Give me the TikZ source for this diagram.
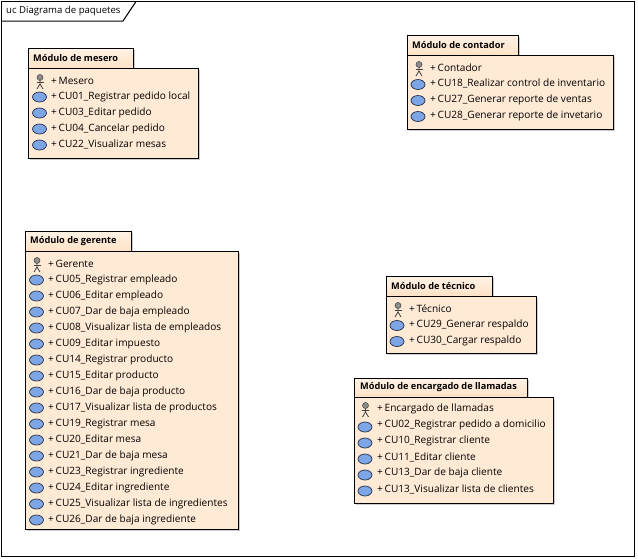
\documentclass[tikz,border=0pt]{standalone}
\usepackage{fontspec}
\setmainfont{Open Sans}
\usetikzlibrary{shadows,shapes.geometric}
\definecolor{paqfondo}{HTML}{FFEAD6}
\definecolor{paqtab}{HTML}{FFE2C6}
\definecolor{casofondo}{HTML}{7EA6E6}
\definecolor{casoborde}{HTML}{26304A}
\tikzset{
	paquete/.style={draw=black,fill=paqfondo,line width=1pt,drop shadow={shadow xshift=1.5pt,shadow yshift=-1.5pt,opacity=0.2,fill=black}},
	pestana/.style={paquete,top color=paqfondo!60,bottom color=paqtab},
	titulo/.style={anchor=west,inner sep=0pt,font=\fontsize{9.2}{11}\selectfont\bfseries},
	fila/.style={anchor=west,inner sep=0pt,font=\fontsize{10.1}{11}\selectfont},
	caso/.style={draw=casoborde,fill=casofondo,line width=0.7pt,ellipse,inner sep=0pt,minimum width=14pt,minimum height=10pt},
}
% figura de actor
\newcommand{\actorfig}[2]{
	\filldraw[draw=black!70,fill=black!45,line width=0.6pt] (#1,#2-3.5) circle (3pt);
	\draw[black!75,line width=0.8pt] (#1,#2-0.5) -- (#1,#2+3) -- (#1-3,#2+8);
	\draw[black!75,line width=0.8pt] (#1,#2+3) -- (#1+3,#2+8);
	\draw[black!75,line width=0.8pt] (#1-3.5,#2+1) -- (#1+3.5,#2+1);
}
\begin{document}
\begin{tikzpicture}[x=1pt,y=-1pt]
	\useasboundingbox (0,0) rectangle (638,558);
	% marco
	\draw[black,line width=1pt] (1.5,1.5) rectangle (634,556.5);
	\draw[black,line width=1pt] (1.5,21) -- (123,21) -- (136,1.5);
	\node[fila,font=\fontsize{9.6}{11}\selectfont] (marco) at (6,11) {uc Diagrama de paquetes};

	% mesero
	\draw[pestana] (28,48) rectangle (133,68);
	\draw[paquete] (28,68) rectangle (198,158);
	\node[titulo] (mesero) at (33,58) {Módulo de mesero};
	\actorfig{40}{81}
	\node[fila] (m0) at (51,80.5) {+\,Mesero};
	\node[caso] (cm1) at (39.5,97) {};
	\node[fila] (m1) at (51,96.5) {+\,CU01\_Registrar pedido local};
	\node[caso] (cm2) at (39.5,113) {};
	\node[fila] (m2) at (51,112.5) {+\,CU03\_Editar pedido};
	\node[caso] (cm3) at (39.5,129) {};
	\node[fila] (m3) at (51,128.5) {+\,CU04\_Cancelar pedido};
	\node[caso] (cm4) at (39.5,145) {};
	\node[fila] (m4) at (51,144.5) {+\,CU22\_Visualizar mesas};

	% contador
	\draw[pestana] (407,35) rectangle (518,55);
	\draw[paquete] (407,55) rectangle (613,129.5);
	\node[titulo] (contador) at (412,45) {Módulo de contador};
	\actorfig{419}{68}
	\node[fila] (k0) at (430,67.5) {+\,Contador};
	\node[caso] (ck1) at (418,84.5) {};
	\node[fila] (k1) at (430,83.5) {+\,CU18\_Realizar control de inventario};
	\node[caso] (ck2) at (418,100.5) {};
	\node[fila] (k2) at (430,99.5) {+\,CU27\_Generar reporte de ventas};
	\node[caso] (ck3) at (418,116.5) {};
	\node[fila] (k3) at (430,115.5) {+\,CU28\_Generar reporte de invetario};

	% gerente
	\draw[pestana] (25,231) rectangle (131,251);
	\draw[paquete] (25,251) rectangle (238,529);
	\node[titulo] (gerente) at (30,241) {Módulo de gerente};
	\actorfig{37}{264}
	\node[fila] (g0) at (48,263.5) {+\,Gerente};
	\node[caso] (cg1) at (36.5,280) {};
	\node[fila] (g1) at (48,279.5) {+\,CU05\_Registrar empleado};
	\node[caso] (cg2) at (36.5,296) {};
	\node[fila] (g2) at (48,295.5) {+\,CU06\_Editar empleado};
	\node[caso] (cg3) at (36.5,312) {};
	\node[fila] (g3) at (48,311.5) {+\,CU07\_Dar de baja empleado};
	\node[caso] (cg4) at (36.5,328) {};
	\node[fila] (g4) at (48,327.5) {+\,CU08\_Visualizar lista de empleados};
	\node[caso] (cg5) at (36.5,344) {};
	\node[fila] (g5) at (48,343.5) {+\,CU09\_Editar impuesto};
	\node[caso] (cg6) at (36.5,360) {};
	\node[fila] (g6) at (48,359.5) {+\,CU14\_Registrar producto};
	\node[caso] (cg7) at (36.5,376) {};
	\node[fila] (g7) at (48,375.5) {+\,CU15\_Editar producto};
	\node[caso] (cg8) at (36.5,392) {};
	\node[fila] (g8) at (48,391.5) {+\,CU16\_Dar de baja producto};
	\node[caso] (cg9) at (36.5,408) {};
	\node[fila] (g9) at (48,407.5) {+\,CU17\_Visualizar lista de productos};
	\node[caso] (cg10) at (36.5,424) {};
	\node[fila] (g10) at (48,423.5) {+\,CU19\_Registrar mesa};
	\node[caso] (cg11) at (36.5,440) {};
	\node[fila] (g11) at (48,439.5) {+\,CU20\_Editar mesa};
	\node[caso] (cg12) at (36.5,456) {};
	\node[fila] (g12) at (48,455.5) {+\,CU21\_Dar de baja mesa};
	\node[caso] (cg13) at (36.5,472) {};
	\node[fila] (g13) at (48,471.5) {+\,CU23\_Registrar ingrediente};
	\node[caso] (cg14) at (36.5,488) {};
	\node[fila] (g14) at (48,487.5) {+\,CU24\_Editar ingrediente};
	\node[caso] (cg15) at (36.5,504) {};
	\node[fila] (g15) at (48,503.5) {+\,CU25\_Visualizar lista de ingredientes};
	\node[caso] (cg16) at (36.5,520) {};
	\node[fila] (g16) at (48,519.5) {+\,CU26\_Dar de baja ingrediente};

	% tecnico
	\draw[pestana] (386,276) rectangle (492,296);
	\draw[paquete] (386,296) rectangle (536,353);
	\node[titulo] (tecnico) at (391,286) {Módulo de técnico};
	\actorfig{398}{309}
	\node[fila] (t0) at (409,308.5) {+\,Técnico};
	\node[caso] (ct1) at (397,325.5) {};
	\node[fila] (t1) at (409,324.5) {+\,CU29\_Generar respaldo};
	\node[caso] (ct2) at (397,341.5) {};
	\node[fila] (t2) at (409,340.5) {+\,CU30\_Cargar respaldo};

	% encargado de llamadas
	\draw[pestana] (354,378) rectangle (527,397.5);
	\draw[paquete] (354,397.5) rectangle (553,503);
	\node[titulo] (encargado) at (360,387.5) {Módulo de encargado de llamadas};
	\actorfig{365.5}{409}
	\node[fila] (e0) at (377,408.5) {+\,Encargado de llamadas};
	\node[caso] (ce1) at (365,427) {};
	\node[fila] (e1) at (377,425) {+\,CU02\_Registrar pedido a domicilio};
	\node[caso] (ce2) at (365,443) {};
	\node[fila] (e2) at (377,441) {+\,CU10\_Registrar cliente};
	\node[caso] (ce3) at (365,459) {};
	\node[fila] (e3) at (377,457) {+\,CU11\_Editar cliente};
	\node[caso] (ce4) at (365,475) {};
	\node[fila] (e4) at (377,473) {+\,CU13\_Dar de baja cliente};
	\node[caso] (ce5) at (365,491) {};
	\node[fila] (e5) at (377,489) {+\,CU13\_Visualizar lista de clientes};
\end{tikzpicture}
\end{document}
